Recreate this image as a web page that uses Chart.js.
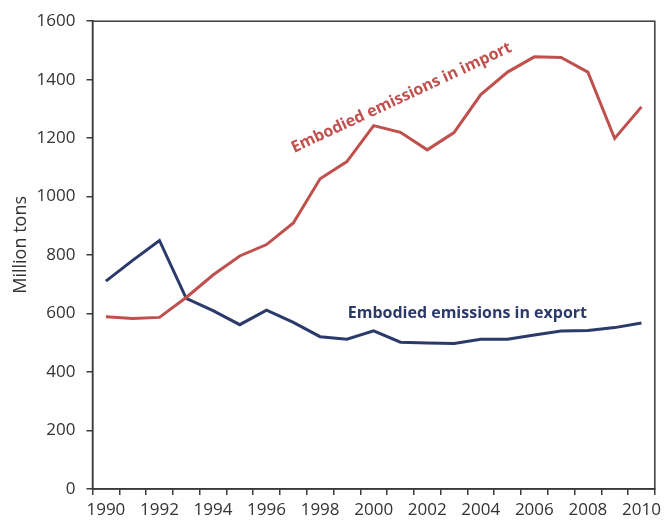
<!DOCTYPE html>
<html>
<head>
<meta charset="utf-8">
<script src="https://cdn.jsdelivr.net/npm/chart.js@4"></script>
<style>
  html, body { margin: 0; padding: 0; background: #fff; }
  #wrap { width: 666px; height: 522px; }
</style>
</head>
<body>
<div id="wrap"><canvas id="emissionsChart" width="666" height="522"></canvas></div>
<script>
const years = ['1990', '1991', '1992', '1993', '1994', '1995', '1996', '1997', '1998', '1999', '2000',
               '2001', '2002', '2003', '2004', '2005', '2006', '2007', '2008', '2009', '2010'];
const importEmissions = [589, 583, 587, 655, 732, 797, 836, 910, 1061, 1120, 1243,
                         1220, 1160, 1219, 1349, 1426, 1478, 1476, 1426, 1199, 1307];
const exportEmissions = [711, 782, 850, 652, 610, 562, 612, 570, 521, 512, 541,
                         502, 499, 498, 512, 512, 527, 540, 542, 552, 568];
const yTicks = [0, 200, 400, 600, 800, 1000, 1200, 1400, 1600];

const RED = '#c0504d';
const NAVY = '#2b3a6b';
const FONT = 'Open Sans';

// Series captions drawn next to their lines, anchored in data coordinates
const seriesLabels = {
    id: 'seriesLabels',
    afterDatasetsDraw(chart) {
        const { ctx, scales: { x, y } } = chart;
        ctx.save();
        ctx.font = `bold 16px "${FONT}"`;
        ctx.textAlign = 'center';
        ctx.textBaseline = 'middle';

        ctx.fillStyle = NAVY;
        ctx.fillText('Embodied emissions in export', x.getPixelForValue(13.5), y.getPixelForValue(602));

        ctx.translate(x.getPixelForValue(11.04), y.getPixelForValue(1338));
        ctx.rotate(-25 * Math.PI / 180);
        ctx.fillStyle = RED;
        ctx.fillText('Embodied emissions in import', 0, 0);
        ctx.restore();
    }
};

// Y axis title, set a little above the middle of the axis
const axisTitle = {
    id: 'axisTitle',
    afterDraw(chart) {
        const { ctx, scales: { y } } = chart;
        ctx.save();
        ctx.font = `18px "${FONT}"`;
        ctx.fillStyle = '#333';
        ctx.textAlign = 'center';
        ctx.textBaseline = 'middle';
        ctx.translate(21, y.getPixelForValue(835));
        ctx.rotate(-Math.PI / 2);
        ctx.fillText('Million tons', 0, 0);
        ctx.restore();
    }
};

// Closed frame around the plot area
const plotFrame = {
    id: 'plotFrame',
    beforeDatasetsDraw(chart) {
        const { ctx, chartArea: a } = chart;
        ctx.save();
        ctx.strokeStyle = '#3a3a3a';
        ctx.lineWidth = 1.5;
        ctx.strokeRect(a.left, a.top, a.right - a.left, a.bottom - a.top);
        ctx.restore();
    }
};

new Chart(document.getElementById('emissionsChart'), {
    type: 'line',
    data: {
        labels: years,
        datasets: [
            {
                label: 'Embodied emissions in import',
                data: importEmissions,
                borderColor: RED,
                borderWidth: 3,
                pointRadius: 0,
                tension: 0
            },
            {
                label: 'Embodied emissions in export',
                data: exportEmissions,
                borderColor: NAVY,
                borderWidth: 3,
                pointRadius: 0,
                tension: 0
            }
        ]
    },
    options: {
        responsive: false,
        animation: false,
        layout: { padding: { top: 19, right: 5, left: 0, bottom: 0 } },
        plugins: {
            legend: { display: false },
            tooltip: { enabled: false }
        },
        scales: {
            x: {
                offset: true,
                grid: {
                    display: true,
                    drawOnChartArea: false,
                    offset: true,
                    tickLength: 6,
                    color: '#3a3a3a',
                    lineWidth: 1.5
                },
                border: { color: '#3a3a3a', width: 1.5 },
                ticks: {
                    color: '#333',
                    font: { family: FONT, size: 17 },
                    padding: 5,
                    maxRotation: 0,
                    autoSkip: false,
                    callback: (value, index) => index % 2 === 0 ? years[index] : ''
                },
                afterFit(scale) { scale.height = 33; }
            },
            y: {
                min: 0,
                max: 1600,
                afterBuildTicks(scale) { scale.ticks = yTicks.map(v => ({ value: v })); },
                grid: {
                    display: true,
                    drawOnChartArea: false,
                    tickLength: 6,
                    color: '#3a3a3a',
                    lineWidth: 1.5
                },
                border: { color: '#3a3a3a', width: 1.5 },
                ticks: {
                    color: '#333',
                    font: { family: FONT, size: 17 },
                    padding: 11,
                    callback: value => String(value)
                },
                afterFit(scale) { scale.width = 92.5; }
            }
        }
    },
    plugins: [plotFrame, seriesLabels, axisTitle]
});
</script>
</body>
</html>
